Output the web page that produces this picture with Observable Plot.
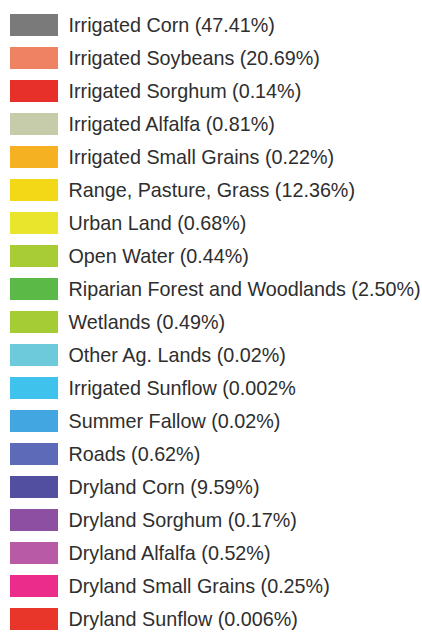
<!DOCTYPE html>
<html>
<head>
<meta charset="utf-8">
<script src="https://cdn.jsdelivr.net/npm/d3@7"></script>
<script src="https://cdn.jsdelivr.net/npm/@observablehq/plot@0.6"></script>
<style>
  html, body { margin: 0; padding: 0; background: #ffffff; }
  #chart svg { display: block; }
</style>
</head>
<body>
<div id="chart"></div>
<script>
const categories = [
  "Irrigated Corn", "Irrigated Soybeans", "Irrigated Sorghum", "Irrigated Alfalfa",
  "Irrigated Small Grains", "Range, Pasture, Grass", "Urban Land", "Open Water",
  "Riparian Forest and Woodlands", "Wetlands", "Other Ag. Lands", "Irrigated Sunflow",
  "Summer Fallow", "Roads", "Dryland Corn", "Dryland Sorghum", "Dryland Alfalfa",
  "Dryland Small Grains", "Dryland Sunflow"
];
const percentLabels = [
  "(47.41%)", "(20.69%)", "(0.14%)", "(0.81%)", "(0.22%)", "(12.36%)", "(0.68%)",
  "(0.44%)", "(2.50%)", "(0.49%)", "(0.02%)", "(0.002%", "(0.02%)", "(0.62%)",
  "(9.59%)", "(0.17%)", "(0.52%)", "(0.25%)", "(0.006%)"
];
const colors = [
  "#7a7a7a", "#ee8262", "#e8302a", "#c6cca9", "#f6b122", "#f3d818", "#e9e52c",
  "#a8cc35", "#5bb948", "#a5cb35", "#6ccadb", "#3fc3ec", "#42a6e0", "#5d6ab8",
  "#524ea0", "#8d4fa1", "#b95aa6", "#ec2c8b", "#e8362b"
];

const rows = categories.map((c, i) => ({
  category: c,
  label: `${c} ${percentLabels[i]}`,
  color: colors[i]
}));

const chart = Plot.plot({
  width: 422,
  height: 637,
  margin: 0,
  style: { background: "#ffffff", fontFamily: "'Liberation Sans', Arial, sans-serif" },
  x: { domain: [0, 422], range: [0, 422], axis: null },
  y: {
    type: "band",
    domain: categories,
    range: [3.25, 639.75],
    paddingInner: 0.34,
    paddingOuter: 0.17,
    axis: null
  },
  marks: [
    Plot.barX(rows, { y: "category", x1: 10, x2: 58, fill: "color" }),
    Plot.text(rows, {
      y: "category",
      x: 68,
      text: "label",
      textAnchor: "start",
      fontSize: 19.75,
      fontFamily: "'Liberation Sans', Arial, sans-serif",
      fill: "#2e2e2e"
    })
  ]
});
document.getElementById("chart").append(chart);
</script>
</body>
</html>
